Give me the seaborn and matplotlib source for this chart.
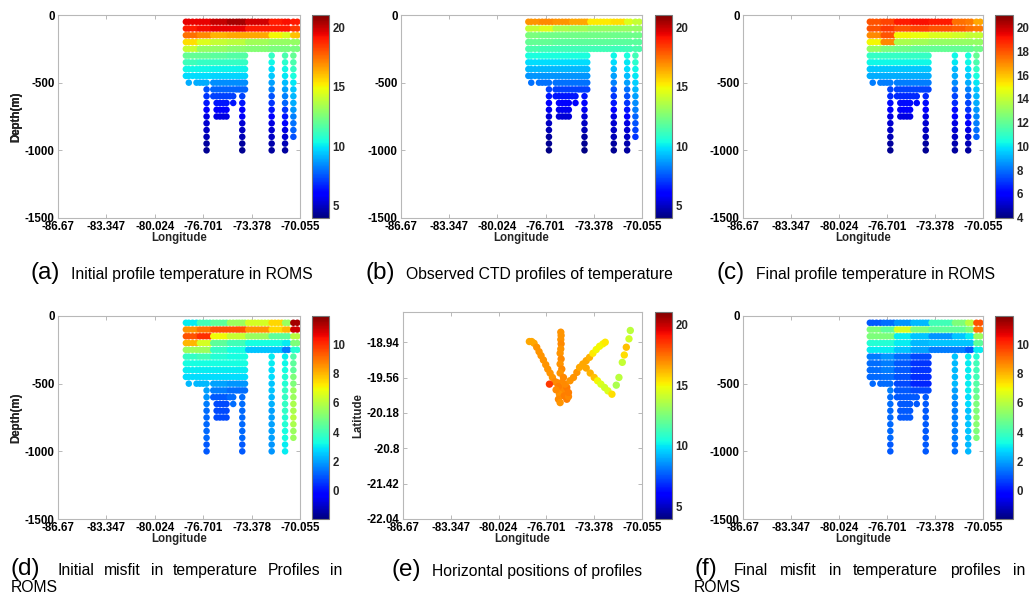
import numpy as np
import pandas as pd
import matplotlib
matplotlib.use("Agg")
import matplotlib.pyplot as plt
import seaborn as sns
from matplotlib.colors import Normalize
from matplotlib.cm import ScalarMappable

nan = float("nan")
JET = matplotlib.colormaps["jet"]

# ---------------- data ----------------
lon_ticks = [-86.67, -83.347, -80.024, -76.701, -73.378, -70.055]
lon_tick_labels = ["-86.67", "-83.347", "-80.024", "-76.701", "-73.378", "-70.055"]
depth_ticks = [0, -500, -1000, -1500]
lat_ticks = [-18.94, -19.56, -20.18, -20.8, -21.42, -22.04]
lat_tick_labels = ["-18.94", "-19.56", "-20.18", "-20.8", "-21.42", "-22.04"]

depth_levels = [-50, -100, -150, -200, -250, -300, -350, -400, -450, -500,
                -550, -600, -650, -700, -750, -800, -850, -900, -950, -1000]

profile_lon = [-77.89, -77.69, -77.43, -77.16, -76.93, -76.70, -76.47, -76.24,
               -76.01, -75.78, -75.55, -75.32, -75.10, -74.87, -74.64, -74.41,
               -74.22, -74.02, -73.83, -73.61, -73.38, -73.15, -72.92, -72.69,
               -72.46, -72.23, -72.00, -71.77, -71.54, -71.31, -71.08, -70.86,
               -70.51, -70.24]
profile_bottom = [450, 500, 450, 500, 500, 500, 1000, 450,
                  600, 750, 750, 750, 750, 600, 650, 550,
                  550, 1000, 550, 250, 250, 250, 250, 250,
                  250, 250, 1000, 250, 250, 250, 1000, 250,
                  900, 250]
# longitude bands used to read values off the picture
segment_edges = [-77.0, -76.1, -75.0, -73.7, -72.1, -71.2, -70.7]

temp_initial = [
    [19.5, 19.5, 20.0, 20.5, 19.8, 19.0, 19.2, 19.0],
    [19.0, 19.3, 19.5, 19.5, 19.0, 19.0, 19.0, 18.5],
    [17.5, 17.0, 16.3, 16.5, 16.5, 15.0, 14.5, 16.0],
    [15.5, 14.5, 14.0, 13.8, 13.3, 13.0, 13.0, 13.0],
    [14.0, 13.0, 13.0, 12.8, 12.7, 12.5, 12.5, 12.5],
    [12.0, 12.0, 11.8, 11.7, nan, 11.0, 11.5, 12.0],
    [11.2, 11.0, 11.0, 11.0, nan, 10.3, 10.8, 11.5],
    [10.3, 10.3, 10.2, 10.2, nan, 9.8, 10.3, 11.0],
    [9.8, 9.8, 9.7, 9.7, nan, 9.5, 10.0, 10.5],
    [9.0, 9.0, 8.5, 8.5, nan, 8.8, 9.3, 10.0],
    [nan, 7.5, 7.8, 7.8, nan, 8.3, 8.8, 9.5],
    [nan, 7.0, 7.2, 7.2, nan, 7.5, 8.3, 9.2],
    [nan, 6.5, 6.5, 6.5, nan, 7.0, 7.8, 9.0],
    [nan, 6.0, 6.0, 6.0, nan, 6.5, 7.0, 8.7],
    [nan, 5.5, 5.5, 5.8, nan, 6.0, 6.5, 8.3],
    [nan, 5.2, nan, 5.3, nan, 5.5, 6.0, 8.0],
    [nan, 5.0, nan, 5.0, nan, 5.2, 5.5, 7.8],
    [nan, 4.8, nan, 4.8, nan, 5.0, 5.2, 7.5],
    [nan, 4.5, nan, 4.5, nan, 4.7, 4.8, nan],
    [nan, 4.3, nan, 4.3, nan, 4.5, 4.5, nan],
]
temp_observed = [
    [16.8, 17.0, 16.8, 16.5, 15.3, 15.5, 14.5, 14.0],
    [14.0, 14.5, 13.5, 13.3, 13.0, 13.0, 13.0, 13.0],
    [12.5, 12.3, 12.3, 12.3, 12.3, 12.2, 12.2, 12.2],
    [12.0, 12.0, 11.9, 11.9, 11.9, 11.8, 11.8, 11.8],
    [11.5, 11.3, 11.3, 11.3, 11.3, 11.2, 11.3, 11.5],
    [10.5, 10.5, 10.5, 10.5, nan, 10.3, 10.5, 11.3],
    [9.8, 9.8, 9.8, 9.8, nan, 9.8, 10.0, 10.8],
    [9.2, 9.2, 9.2, 9.2, nan, 9.3, 9.8, 10.3],
    [8.6, 8.6, 8.6, 8.6, nan, 8.8, 9.3, 10.0],
    [8.0, 8.0, 8.0, 8.0, nan, 8.3, 8.8, 9.6],
    [nan, 7.2, 7.2, 7.2, nan, 7.5, 8.0, 9.2],
    [nan, 6.5, 6.5, 6.5, nan, 7.0, 7.5, 8.8],
    [nan, 6.0, 6.0, 6.0, nan, 6.5, 7.0, 8.5],
    [nan, 5.7, 5.7, 5.7, nan, 6.0, 6.5, 8.2],
    [nan, 5.3, 5.3, 5.3, nan, 5.5, 6.0, 7.8],
    [nan, 5.0, nan, 5.0, nan, 5.2, 5.5, 7.5],
    [nan, 4.8, nan, 4.8, nan, 5.0, 5.2, 7.2],
    [nan, 4.5, nan, 4.5, nan, 4.8, 5.0, 7.0],
    [nan, 4.3, nan, 4.3, nan, 4.5, 4.7, nan],
    [nan, 4.1, nan, 4.1, nan, 4.3, 4.5, nan],
]
temp_final = [
    [18.0, 18.3, 19.0, 19.2, 19.0, 17.5, 17.3, 16.5],
    [18.0, 18.5, 18.0, 18.3, 18.0, 17.8, 17.5, 17.3],
    [17.0, 18.0, 15.0, 14.8, 14.5, 14.3, 14.0, 14.0],
    [15.0, 17.0, 13.5, 13.3, 13.0, 13.0, 13.0, 13.0],
    [13.0, 12.5, 12.3, 12.0, 12.0, 12.0, 12.0, 12.3],
    [11.0, 11.0, 11.0, 11.0, nan, 10.3, 10.5, 12.0],
    [10.3, 10.3, 10.3, 10.3, nan, 10.0, 10.3, 11.5],
    [9.5, 9.5, 9.5, 9.5, nan, 9.3, 9.8, 11.0],
    [9.0, 9.0, 9.0, 9.0, nan, 9.0, 9.5, 10.5],
    [8.2, 8.2, 8.2, 8.2, nan, 8.5, 9.0, 10.0],
    [nan, 7.3, 7.3, 7.3, nan, 7.8, 8.3, 9.5],
    [nan, 6.8, 6.8, 6.8, nan, 7.3, 7.8, 9.2],
    [nan, 6.3, 6.3, 6.3, nan, 6.8, 7.3, 9.0],
    [nan, 6.0, 6.0, 6.0, nan, 6.3, 7.0, 8.7],
    [nan, 5.5, 5.5, 5.5, nan, 6.0, 6.5, 8.4],
    [nan, 5.2, nan, 5.2, nan, 5.5, 6.0, 8.2],
    [nan, 5.0, nan, 5.0, nan, 5.2, 5.5, 8.0],
    [nan, 4.8, nan, 4.8, nan, 5.0, 5.2, 7.8],
    [nan, 4.5, nan, 4.5, nan, 4.7, 4.8, nan],
    [nan, 4.3, nan, 4.3, nan, 4.5, 4.5, nan],
]
misfit_initial = [
    [3.0, 4.0, 4.5, 5.5, 6.5, 7.5, 5.5, 11.5],
    [8.5, 9.0, 9.5, 9.5, 8.5, 7.5, 8.0, 11.0],
    [9.5, 10.0, 7.0, 6.3, 5.5, 4.5, 4.5, 6.0],
    [8.0, 6.5, 4.5, 4.0, 3.3, 3.3, 3.0, 5.0],
    [5.5, 5.5, 3.8, 3.3, 2.5, 2.5, 1.5, 3.5],
    [3.8, 4.0, 3.5, 3.3, nan, 3.0, 3.0, 4.2],
    [3.3, 3.3, 3.3, 3.3, nan, 3.0, 3.2, 4.5],
    [3.0, 3.0, 3.0, 3.0, nan, 2.8, 3.3, 4.5],
    [2.8, 2.8, 2.8, 2.8, nan, 2.8, 3.5, 5.0],
    [2.3, 2.3, 2.0, 1.8, nan, 2.5, 3.5, 5.0],
    [nan, 2.0, 1.5, 1.3, nan, 2.5, 3.8, 5.5],
    [nan, 1.8, 1.0, 1.3, nan, 2.3, 3.8, 5.5],
    [nan, 1.5, 0.8, 1.3, nan, 2.2, 3.8, 5.8],
    [nan, 1.3, 0.8, 1.2, nan, 2.0, 3.7, 5.8],
    [nan, 1.2, 0.8, 1.2, nan, 2.0, 3.5, 6.0],
    [nan, 1.2, nan, 1.2, nan, 2.0, 3.5, 5.8],
    [nan, 1.2, nan, 1.2, nan, 2.0, 3.3, 5.5],
    [nan, 1.2, nan, 1.2, nan, 2.0, 3.3, 5.5],
    [nan, 1.0, nan, 1.0, nan, 1.8, 3.0, nan],
    [nan, 1.0, nan, 1.0, nan, 1.8, 3.0, nan],
]
misfit_final = [
    [1.0, 1.3, 1.8, 2.3, 4.0, 5.0, 6.0, 9.5],
    [5.0, 4.5, 6.5, 5.0, 4.5, 4.5, 5.0, 9.0],
    [5.0, 5.0, 3.0, 2.5, 1.8, 2.5, 3.0, 5.5],
    [3.5, 3.5, 3.0, 2.3, 2.5, 2.5, 2.5, 4.5],
    [3.0, 3.0, 2.5, 2.0, 1.5, 1.5, 1.0, 3.0],
    [1.5, 1.8, 1.3, 0.8, nan, 2.5, 3.0, 3.5],
    [1.3, 1.5, 1.0, 0.5, nan, 2.3, 3.0, 4.0],
    [1.3, 1.5, 1.0, 0.5, nan, 2.3, 3.0, 4.0],
    [1.2, 1.3, 0.9, 0.4, nan, 2.3, 3.0, 4.0],
    [1.2, 1.3, 0.8, 0.3, nan, 2.3, 3.0, 4.3],
    [nan, 1.5, 1.0, 0.8, nan, 2.0, 3.0, 4.5],
    [nan, 1.3, 1.0, 1.0, nan, 1.8, 2.8, 4.8],
    [nan, 1.3, 1.0, 1.0, nan, 1.5, 2.8, 5.0],
    [nan, 1.2, 1.0, 1.0, nan, 1.5, 2.5, 5.0],
    [nan, 1.2, 1.0, 1.0, nan, 1.5, 2.5, 5.2],
    [nan, 1.2, nan, 1.0, nan, 1.5, 2.5, 5.2],
    [nan, 1.2, nan, 1.0, nan, 1.5, 2.5, 5.0],
    [nan, 1.2, nan, 1.0, nan, 1.5, 2.5, 5.0],
    [nan, 1.0, nan, 1.0, nan, 1.3, 2.3, nan],
    [nan, 1.0, nan, 1.0, nan, 1.3, 2.3, nan],
]

# horizontal positions of profiles (panel e)
pos_lon = [-77.885, -77.723, -77.560, -77.374, -77.212, -77.072, -76.909, -76.747,
           -76.607, -76.445, -76.282, -76.096, -76.491,
           -75.701, -75.678, -75.701, -75.678, -75.701, -75.747, -75.678, -75.747,
           -75.631, -75.747, -75.515, -75.631, -75.747, -75.561, -75.794, -75.468,
           -75.864, -75.747, -75.282, -75.166,
           -75.980, -75.864, -76.027, -75.282, -75.398, -75.061, -75.166,
           -74.818, -74.584, -74.397, -74.167, -73.935, -73.702, -73.470, -73.238,
           -73.005, -72.773, -72.610,
           -73.935, -73.656, -73.377, -73.145, -72.912, -72.656, -72.424, -72.145,
           -70.867, -70.960, -71.146, -71.286, -71.425, -71.658, -71.843]
pos_lat = [-18.928, -18.928, -18.958, -19.028, -19.105, -19.175, -19.252, -19.334,
           -19.411, -19.481, -19.558, -19.634, -19.675,
           -18.764, -18.822, -18.893, -18.969, -19.058, -19.134, -19.234, -19.322,
           -19.411, -19.481, -19.558, -19.646, -19.716, -19.775, -19.852, -19.881,
           -19.940, -19.999, -19.940, -19.893,
           -19.646, -19.716, -19.775, -19.734, -19.675, -19.616, -19.822,
           -19.558, -19.469, -19.381, -19.322, -19.264, -19.205, -19.134, -19.069,
           -19.011, -18.969, -18.940,
           -19.393, -19.481, -19.558, -19.616, -19.675, -19.734, -19.793, -19.852,
           -18.734, -18.881, -19.028, -19.164, -19.293, -19.558, -19.693]
pos_temp = [16.5, 16.5, 16.5, 16.8, 16.8, 16.8, 16.8, 16.8,
            16.8, 16.8, 16.8, 17.0, 18.5,
            16.8, 16.8, 16.8, 17.0, 16.8, 16.8, 17.0, 16.8,
            17.0, 16.8, 17.0, 17.0, 16.8, 17.0, 16.8, 17.2,
            17.0, 16.8, 17.2, 17.0,
            17.0, 17.2, 17.0, 17.3, 17.0, 16.8, 17.2,
            16.8, 16.8, 16.5, 16.5, 16.5, 16.3, 15.3, 15.0,
            15.0, 15.0, 15.3,
            16.5, 16.3, 16.0, 15.0, 14.5, 14.2, 14.5, 15.5,
            13.8, 14.2, 16.0, 15.5, 14.0, 13.8, 13.5]

temp_range = (3.97, 21.06)
misfit_range = (-1.95, 11.95)

# ---------------- figure ----------------
sns.set_theme(style="white")
plt.rcParams["font.family"] = ["Liberation Sans", "DejaVu Sans"]

W, H = 1029, 598
fig = plt.figure(figsize=(W / 100, H / 100), dpi=100)
fig.patch.set_facecolor("white")


def rect(l, t, r, b):
    return [l / W, 1 - b / H, (r - l) / W, (b - t) / H]


SPINE = "#b8b8b8"
TICK_FS = 8.3


def style_axes(ax, h_px, yticks, ylabels, ylabel, ylabel_x):
    ax.set_xlim(lon_ticks[0], lon_ticks[-1])
    ax.set_xticks(lon_ticks)
    ax.set_xticklabels(lon_tick_labels, fontsize=TICK_FS, fontweight="bold")
    ax.set_yticks(yticks)
    ax.set_yticklabels(ylabels, fontsize=TICK_FS, fontweight="bold")
    for s in ax.spines.values():
        s.set_color(SPINE)
        s.set_linewidth(0.8)
    ax.tick_params(direction="in", length=3, color=SPINE, top=True, right=True,
                   bottom=True, left=True, labelcolor="black", pad=2.5, width=0.7)
    ax.set_xlabel("Longitude", fontsize=TICK_FS, fontweight="bold")
    ax.xaxis.set_label_coords(0.5, -20.0 / h_px)
    ax.xaxis.label.set_verticalalignment("center")
    ax.set_ylabel(ylabel, fontsize=TICK_FS, fontweight="bold")
    ax.yaxis.set_label_coords(ylabel_x, 0.5)
    ax.yaxis.label.set_verticalalignment("center")
    ax.grid(False)
    ax.set_facecolor("white")


def style_cbar(cax, rng, ticks):
    sm = ScalarMappable(norm=Normalize(*rng), cmap=JET)
    cb = fig.colorbar(sm, cax=cax, ticks=ticks)
    cb.ax.set_yticklabels([str(t) for t in ticks], fontsize=TICK_FS, fontweight="bold")
    cb.ax.tick_params(direction="in", length=3, color="#666666", pad=2.5, width=0.7)
    cb.outline.set_edgecolor("#777777")
    cb.outline.set_linewidth(0.8)


def depth_frame(table):
    rows = []
    for lon, bottom in zip(profile_lon, profile_bottom):
        seg = int(np.digitize(lon, segment_edges))
        for j, d in enumerate(depth_levels):
            if abs(d) <= bottom:
                v = table[j][seg]
                if not np.isnan(v):
                    rows.append((lon, d, v))
    return pd.DataFrame(rows, columns=["lon", "depth", "value"])


panels = [
    (temp_initial, (58, 15, 300, 218), (312, 15, 329, 218), temp_range, [5, 10, 15, 20]),
    (temp_observed, (401, 15, 642, 218), (655, 15, 672, 218), temp_range, [5, 10, 15, 20]),
    (temp_final, (743, 15, 983, 218), (995, 15, 1013, 218), temp_range,
     [4, 6, 8, 10, 12, 14, 16, 18, 20]),
    (misfit_initial, (58, 316, 300, 519), (312, 316, 329, 519), misfit_range,
     [0, 2, 4, 6, 8, 10]),
    (misfit_final, (743, 316, 983, 519), (995, 316, 1013, 519), misfit_range,
     [0, 2, 4, 6, 8, 10]),
]

for table, arect, crect, rng, cticks in panels:
    ax = fig.add_axes(rect(*arect))
    cax = fig.add_axes(rect(*crect))
    df = depth_frame(table)
    sns.scatterplot(data=df, x="lon", y="depth", hue="value", palette=JET,
                    hue_norm=rng, s=22, linewidth=0, edgecolor="none",
                    legend=False, ax=ax)
    ax.set_ylim(-1500, 0)
    style_axes(ax, arect[3] - arect[1], depth_ticks,
               [str(t) for t in depth_ticks], "Depth(m)",
               -(arect[0] - 16.5) / (arect[2] - arect[0]))
    style_cbar(cax, rng, cticks)

# panel (e)
arect = (403, 312, 642, 519)
ax = fig.add_axes(rect(*arect))
cax = fig.add_axes(rect(655, 312, 672, 519))
dfe = pd.DataFrame({"lon": pos_lon, "lat": pos_lat, "value": pos_temp})
sns.scatterplot(data=dfe, x="lon", y="lat", hue="value", palette=JET,
                hue_norm=temp_range, s=28, linewidth=0, edgecolor="none",
                legend=False, ax=ax)
ax.set_ylim(-22.04, -18.41)
style_axes(ax, arect[3] - arect[1], lat_ticks, lat_tick_labels, "Latitude",
           -(403 - 358) / (642 - 403))
style_cbar(cax, temp_range, [5, 10, 15, 20])

# ---------------- captions ----------------
renderer = fig.canvas.get_renderer()
LBL_FS = 17.5
TXT_FS = 11.3
LBL_GAP = 11


def ftext(x, y, s, fs):
    return fig.text(x / W, 1 - y / H, s, fontsize=fs, ha="left", va="baseline",
                    color="black")


def caption_centered(cx, y, label, text):
    t1 = ftext(0, y, label, LBL_FS)
    t2 = ftext(0, y, text, TXT_FS)
    w1 = t1.get_window_extent(renderer).width
    w2 = t2.get_window_extent(renderer).width
    x0 = cx - (w1 + LBL_GAP + w2) / 2
    t1.set_x(x0 / W)
    t2.set_x((x0 + w1 + LBL_GAP) / W)


def caption_justified(x0, x1, y, y2, label, words, last, label_gap=17):
    t0 = ftext(x0, y, label, LBL_FS)
    w0 = t0.get_window_extent(renderer).width
    items = [ftext(0, y, w, TXT_FS) for w in words]
    widths = [t.get_window_extent(renderer).width for t in items]
    start = x0 + w0 + label_gap
    space = (x1 - start - sum(widths)) / (len(items) - 1)
    x = start
    for t, w in zip(items, widths):
        t.set_x(x / W)
        x += w + space
    ftext(x0, y2, last, TXT_FS)


caption_centered(172, 279, "(a)", "Initial profile temperature in ROMS")
caption_centered(519, 279, "(b)", "Observed CTD profiles of temperature")
caption_centered(856, 279, "(c)", "Final profile temperature in ROMS")
caption_centered(517, 576, "(e)", "Horizontal positions of profiles")
caption_justified(11, 342, 575, 592, "(d)",
                  ["Initial", "misfit", "in", "temperature", "Profiles", "in"], "ROMS")
caption_justified(694, 1025, 575, 592, "(f)",
                  ["Final", "misfit", "in", "temperature", "profiles", "in"], "ROMS")

fig.savefig("out.png", dpi=100, facecolor="white")
